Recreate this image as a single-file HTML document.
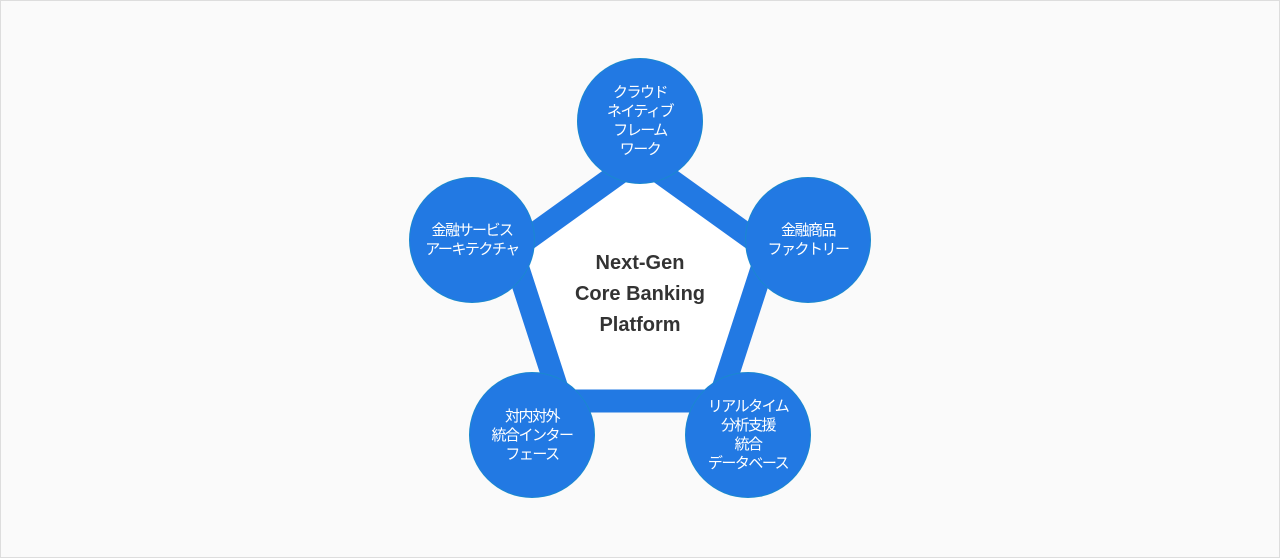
<!DOCTYPE html>
<html><head><meta charset="utf-8"><style>
html,body{margin:0;padding:0;}
body{width:1280px;height:558px;background:#fafafa;position:relative;overflow:hidden;font-family:"Liberation Sans","Noto Sans CJK JP",sans-serif;}
.frame{position:absolute;left:0;top:0;width:1278px;height:556px;border:1px solid #ddd;}
.c{position:absolute;width:124px;height:124px;border-radius:50%;background:#2279e3;box-shadow:0 0 0 1px #1a88cf;color:#fff;font-size:15px;line-height:19px;display:flex;align-items:center;justify-content:center;text-align:center;letter-spacing:-1.5px;}
.t{position:absolute;left:540px;width:200px;text-align:center;font-weight:bold;font-size:20px;color:#333;line-height:31px;top:248px;}
</style></head><body>
<div class="frame"></div>
<svg width="1280" height="558" style="position:absolute;left:0;top:0">
<polygon points="640,158 768,250 719,401 561,401 512,250" fill="#fff" stroke="#2279e3" stroke-width="23" stroke-linejoin="miter"/>
</svg>
<div class="t">Next-Gen<br>Core Banking<br>Platform</div>
<div class="c" style="left:578px;top:59px">クラウド<br>ネイティブ<br>フレーム<br>ワーク</div>
<div class="c" style="left:410px;top:178px">金融サービス<br>アーキテクチャ</div>
<div class="c" style="left:746px;top:178px">金融商品<br>ファクトリー</div>
<div class="c" style="left:470px;top:373px">対内対外<br>統合インター<br>フェース</div>
<div class="c" style="left:686px;top:373px">リアルタイム<br>分析支援<br>統合<br>データベース</div>
</body></html>
